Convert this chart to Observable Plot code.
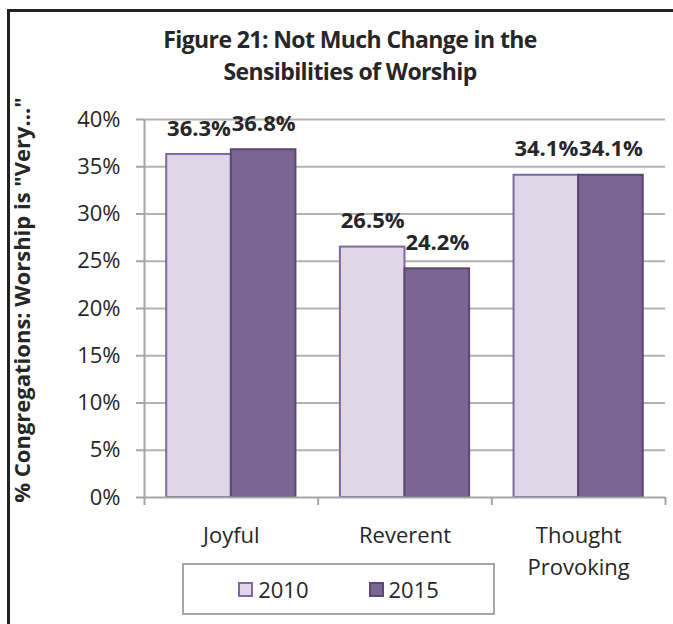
<!DOCTYPE html>
<html>
<head>
<meta charset="utf-8">
<script src="https://cdn.jsdelivr.net/npm/d3@7"></script>
<script src="https://cdn.jsdelivr.net/npm/@observablehq/plot@0.6"></script>
<style>
  html, body { margin: 0; padding: 0; background: #fff; overflow: hidden; }
  #wrap { position: relative; width: 673px; height: 624px; font-family: "Open Sans", sans-serif; color: #262626; }
  #border { position: absolute; left: 7px; top: 9px; width: 800px; height: 800px; border-left: 3px solid #222; border-top: 3px solid #222; }
  #title { position: absolute; left: 0; top: 23px; width: 700px; text-align: center; font-weight: bold; font-size: 23px; letter-spacing: -0.6px; line-height: 32px; }
  #ylabel { position: absolute; left: 21px; top: 300px; transform: translate(-50%, -50%) rotate(-90deg); white-space: nowrap; font-weight: bold; font-size: 22px; }
  #chart { position: absolute; left: 0; top: 0; }
  #legend { position: absolute; left: 182px; top: 563px; width: 313px; height: 52px; box-sizing: border-box; border: 2px solid #a6a6a6; background: #fff; display: flex; align-items: center; justify-content: center; gap: 60px; font-size: 22px; }
  .item { display: flex; align-items: center; gap: 5px; }
  .sw { width: 15px; height: 15px; box-sizing: border-box; border: 2px solid; }
</style>
</head>
<body>
<div id="wrap">
  <div id="border"></div>
  <div id="chart"></div>
  <div id="title">Figure 21: Not Much Change in the<br>Sensibilities of Worship</div>
  <div id="ylabel">% Congregations: Worship is "Very…"</div>
  <div id="legend"></div>
</div>
<script>
const categories = ["Joyful", "Reverent", "Thought Provoking"];
const categoryLabels = ["Joyful", "Reverent", "Thought\nProvoking"];
const years = ["2010", "2015"];
const values2010 = [36.3, 26.5, 34.1];
const values2015 = [36.8, 24.2, 34.1];
const yTicks = [0, 5, 10, 15, 20, 25, 30, 35, 40];

const fills = {"2010": "#dfd7e8", "2015": "#7b6594"};
const strokes = {"2010": "#8066a3", "2015": "#5a4873"};
const half = 0.372; // bar width as a fraction of each category band

const rows = categories.flatMap((c, i) => [
  {category: c, i, year: "2010", value: values2010[i], x1: i + 0.5 - half, x2: i + 0.5},
  {category: c, i, year: "2015", value: values2015[i], x1: i + 0.5, x2: i + 0.5 + half}
]);

const axisColor = "#a6a6a6";

const chart = Plot.plot({
  width: 673,
  height: 624,
  marginLeft: 144,
  marginRight: 8,
  marginTop: 119,
  marginBottom: 127,
  style: {fontFamily: "Open Sans, sans-serif", background: "transparent", color: "#262626"},
  x: {domain: [0, categories.length], axis: null},
  y: {domain: [0, 40], axis: null},
  marks: [
    Plot.ruleY(yTicks.slice(1), {stroke: "#b3b3b3", strokeWidth: 2}),
    ...years.map(yr => Plot.rect(rows.filter(d => d.year === yr), {
      x1: "x1", x2: "x2", y1: 0, y2: "value",
      fill: fills[yr], stroke: strokes[yr], strokeWidth: 2
    })),
    Plot.ruleX([0], {stroke: axisColor, strokeWidth: 2}),
    Plot.ruleY([0], {stroke: axisColor, strokeWidth: 2}),
    Plot.axisY({ticks: yTicks, tickSize: 8, tickPadding: 16, tickFormat: d => d + "%",
      fontSize: 22, stroke: axisColor, strokeWidth: 2, fill: "#262626", label: null}),
    Plot.axisX({ticks: d3.range(categories.length + 1), tickSize: 8, tickFormat: () => "",
      stroke: axisColor, strokeWidth: 2, label: null}),
    Plot.text(categoryLabels, {x: (d, i) => i + 0.5, y: 0, text: d => d, dy: 23,
      lineAnchor: "top", lineHeight: 1.45, fontSize: 22, fill: "#262626"}),
    Plot.text(rows, {x: d => (d.x1 + d.x2) / 2, y: "value", text: d => d.value.toFixed(1) + "%",
      dy: -26, fontSize: 22, fontWeight: "bold", fill: "#262626"})
  ]
});
document.getElementById("chart").appendChild(chart);

const legend = document.getElementById("legend");
years.forEach(yr => {
  const item = document.createElement("div");
  item.className = "item";
  const sw = document.createElement("div");
  sw.className = "sw";
  sw.style.background = fills[yr];
  sw.style.borderColor = strokes[yr];
  const t = document.createElement("span");
  t.textContent = yr;
  item.appendChild(sw);
  item.appendChild(t);
  legend.appendChild(item);
});
</script>
</body>
</html>
